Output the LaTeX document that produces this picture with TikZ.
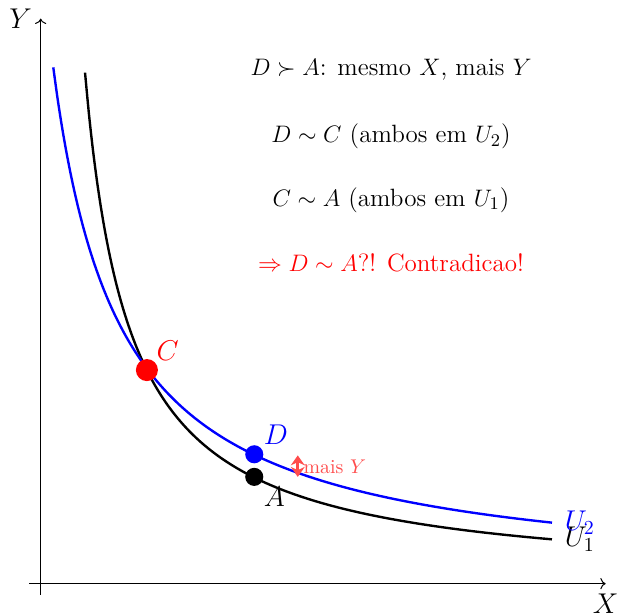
\documentclass[tikz,border=0pt]{standalone}
\usepackage{amsmath}
\usepackage{amssymb}
\usetikzlibrary{arrows.meta}
\begin{document}
\begin{tikzpicture}[
x=1cm,
y=1cm,
eixo/.style={->,line width=0.5pt,draw=black},
curva/.style={line width=1.2pt,samples=120,smooth},
ponto/.style={circle,inner sep=0pt,minimum size=0.32cm},
pontogrande/.style={circle,inner sep=0pt,minimum size=0.39cm},
rotulo/.style={font=\Large},
texto/.style={font=\fontsize{12.6}{15}\selectfont,align=center},
maisy/.style={{Stealth[length=5pt,width=7pt]}-{Stealth[length=5pt,width=7pt]},line width=1.4pt,draw=red!70},
every node/.style={outer sep=0pt}
]

\path[use as bounding box] (-0.72,-0.554) rectangle (10.2,10.33);

\coordinate (xini) at (-0.2,0);
\coordinate (xfim) at (10,0);
\coordinate (yini) at (0,-0.2);
\coordinate (yfim) at (0,10);

\draw[eixo] (xini) -- (xfim);
\draw[eixo] (yini) -- (yfim);
\node[rotulo,below,yshift=-0.07cm] (xlab) at (xfim) {$X$};
\node[rotulo,left,xshift=-0.04cm] (ylab) at (yfim) {$Y$};

\draw[curva,black,domain=0.785:9.05] plot (\x,{7.1/\x}) node[rotulo,right,xshift=0.11cm] (u1lab) {$U_1$};
\draw[curva,blue,domain=0.223:9.05] plot (\x,{10.81/(\x+0.96)}) node[rotulo,right,xshift=0.11cm,text=blue] (u2lab) {$U_2$};

\node[pontogrande,fill=red] (C) at (1.88,3.78) {};
\node[ponto,fill=blue] (D) at (3.78,2.29) {};
\node[ponto,fill=black] (A) at (3.78,1.89) {};

\node[rotulo,text=red,above right=1.5pt] (Clab) at (C) {$C$};
\node[rotulo,text=blue,above right=1.5pt] (Dlab) at (D) {$D$};
\node[rotulo,below right=1.5pt] (Alab) at (A) {$A$};

\coordinate (maisA) at (4.55,1.89);
\coordinate (maisD) at (4.55,2.27);
\draw[maisy] (maisA) -- (maisD);
\node[right,text=red!70,inner sep=1.5pt] (maislab) at (4.6,2.07) {mais $Y$};

\node[texto] (linha1) at (6.2,9.09) {$D \succ A$: mesmo $X$, mais $Y$};
\node[texto] (linha2) at (6.2,7.91) {$D \sim C$ (ambos em $U_2$)};
\node[texto] (linha3) at (6.2,6.79) {$C \sim A$ (ambos em $U_1$)};
\node[texto,text=red] (linha4) at (6.2,5.68) {$\Rightarrow D \sim A$?! Contradicao!};

\end{tikzpicture}
\end{document}
